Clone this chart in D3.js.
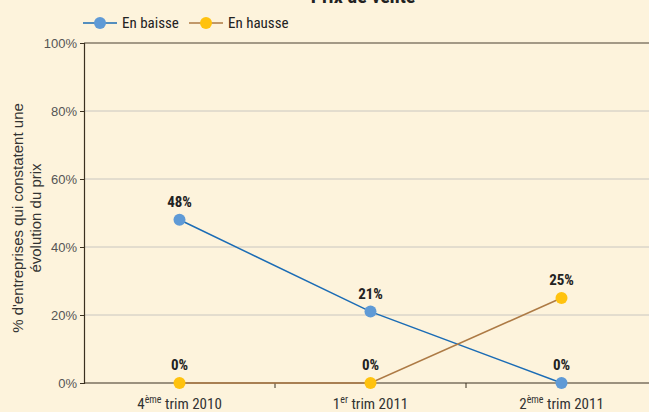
<!DOCTYPE html>
<html>
<head>
<meta charset="utf-8">
<script src="https://cdn.jsdelivr.net/npm/d3@7"></script>
<style>
  body { margin: 0; background: #fdf3dc; }
  svg { display: block; font-family: "Liberation Sans Narrow", "Roboto Condensed", "Liberation Sans", Arial, sans-serif; }
</style>
</head>
<body>
<div id="chart"></div>
<script>
let categories = ["4ème trim 2010", "1er trim 2011", "2ème trim 2011"];
let catBase = ["4", "1", "2"];
let catSup = ["ème", "er", "ème"];
let catRest = [" trim 2010", " trim 2011", " trim 2011"];
let baisse = [48, 21, 0];
let hausse = [0, 0, 25];
let yTicks = [0, 20, 40, 60, 80, 100];

let width = 649, height = 412;
let plotLeft = 84, plotRight = 657, plotTop = 43, plotBottom = 383;

let svg = d3.select("#chart").append("svg").attr("width", width).attr("height", height);
svg.append("rect").attr("width", width).attr("height", height).attr("fill", "#fdf3dc");

let x = d3.scaleBand().domain(categories).range([plotLeft, plotRight]);
let y = d3.scaleLinear().domain([0, 100]).range([plotBottom, plotTop]);

// title (cut off at top, as in the source)
svg.append("text").attr("x", 363).attr("y", 3).attr("text-anchor", "middle")
    .attr("font-weight", "bold").attr("font-size", 20).attr("fill", "#222").text("Prix de vente");

// grid
svg.append("g").selectAll("line").data([20, 40, 60, 80]).join("line")
    .attr("x1", plotLeft).attr("x2", width).attr("y1", d => y(d)).attr("y2", d => y(d))
    .attr("stroke", "#c9c6c0").attr("stroke-width", 1);
svg.append("line").attr("x1", plotLeft).attr("x2", width).attr("y1", y(100)).attr("y2", y(100))
    .attr("stroke", "#4a4030").attr("stroke-width", 1.2);

// y axis
let yAxis = svg.append("g").attr("transform", `translate(${plotLeft},0)`)
    .call(d3.axisLeft(y).tickValues(yTicks).tickFormat(d => d + "%").tickSize(4).tickPadding(3));
yAxis.select(".domain").attr("stroke", "#3a3020").attr("stroke-width", 1.2);
yAxis.selectAll(".tick line").attr("stroke", "#3a3020");
yAxis.selectAll("text").attr("font-size", 13).attr("fill", "#555").attr("font-family", null);

// x axis
let xAxis = svg.append("g").attr("transform", `translate(0,${plotBottom})`);
xAxis.append("line").attr("x1", plotLeft).attr("x2", width).attr("stroke", "#3a3020").attr("stroke-width", 1.2);
xAxis.selectAll(".xt").data(categories.slice(1)).join("line").attr("class", "xt")
    .attr("x1", d => x(d)).attr("x2", d => x(d)).attr("y1", 0).attr("y2", 5)
    .attr("stroke", "#3a3020");
let xl = xAxis.selectAll(".xl").data(categories).join("text").attr("class", "xl")
    .attr("x", d => x(d) + x.bandwidth() / 2).attr("y", 26).attr("text-anchor", "middle")
    .attr("font-size", 15).attr("fill", "#333");
xl.append("tspan").text((d, i) => catBase[i]);
xl.append("tspan").attr("dy", -6).attr("font-size", 10).text((d, i) => catSup[i]);
xl.append("tspan").attr("dy", 6).text((d, i) => catRest[i]);

// y label
let yl = svg.append("text").attr("transform", "translate(23,218) rotate(-90)")
    .attr("text-anchor", "middle").attr("font-size", 15).attr("fill", "#333")
    .attr("font-family", "'Liberation Sans', Arial, sans-serif");
yl.append("tspan").attr("x", 0).attr("dy", 0).text("% d'entreprises qui constatent une");
yl.append("tspan").attr("x", 0).attr("dy", 18).text("évolution du prix");

let cx = d => x(d) + x.bandwidth() / 2;
let series = [
    { name: "En baisse", values: baisse, line: "#1b6cb5", fill: "#5f9ad6" },
    { name: "En hausse", values: hausse, line: "#ad7a45", fill: "#ffc20e" }
];
let lineGen = d3.line().x((d, i) => cx(categories[i])).y(d => y(d));

series.forEach(s => {
    svg.append("path").datum(s.values).attr("d", lineGen)
        .attr("fill", "none").attr("stroke", s.line).attr("stroke-width", 1.5);
});
series.forEach(s => {
    svg.append("g").selectAll("circle").data(s.values).join("circle")
        .attr("cx", (d, i) => cx(categories[i])).attr("cy", d => y(d)).attr("r", 6)
        .attr("fill", s.fill);
});
series.forEach(s => {
    svg.append("g").selectAll("text").data(s.values).join("text")
        .attr("x", (d, i) => cx(categories[i])).attr("y", d => y(d) - 13)
        .attr("text-anchor", "middle").attr("font-weight", "bold").attr("font-size", 15)
        .attr("fill", "#222").text(d => d + "%");
});

// legend
let legend = svg.append("g");
let lx = [83, 189];
series.forEach((s, i) => {
    legend.append("line").attr("x1", lx[i]).attr("x2", lx[i] + 34).attr("y1", 23).attr("y2", 23)
        .attr("stroke", s.line).attr("stroke-width", 1.5);
    legend.append("circle").attr("cx", lx[i] + 17).attr("cy", 23).attr("r", 6).attr("fill", s.fill);
    legend.append("text").attr("x", lx[i] + 39).attr("y", 28).attr("font-size", 15).attr("fill", "#222").text(s.name);
});
</script>
</body>
</html>
